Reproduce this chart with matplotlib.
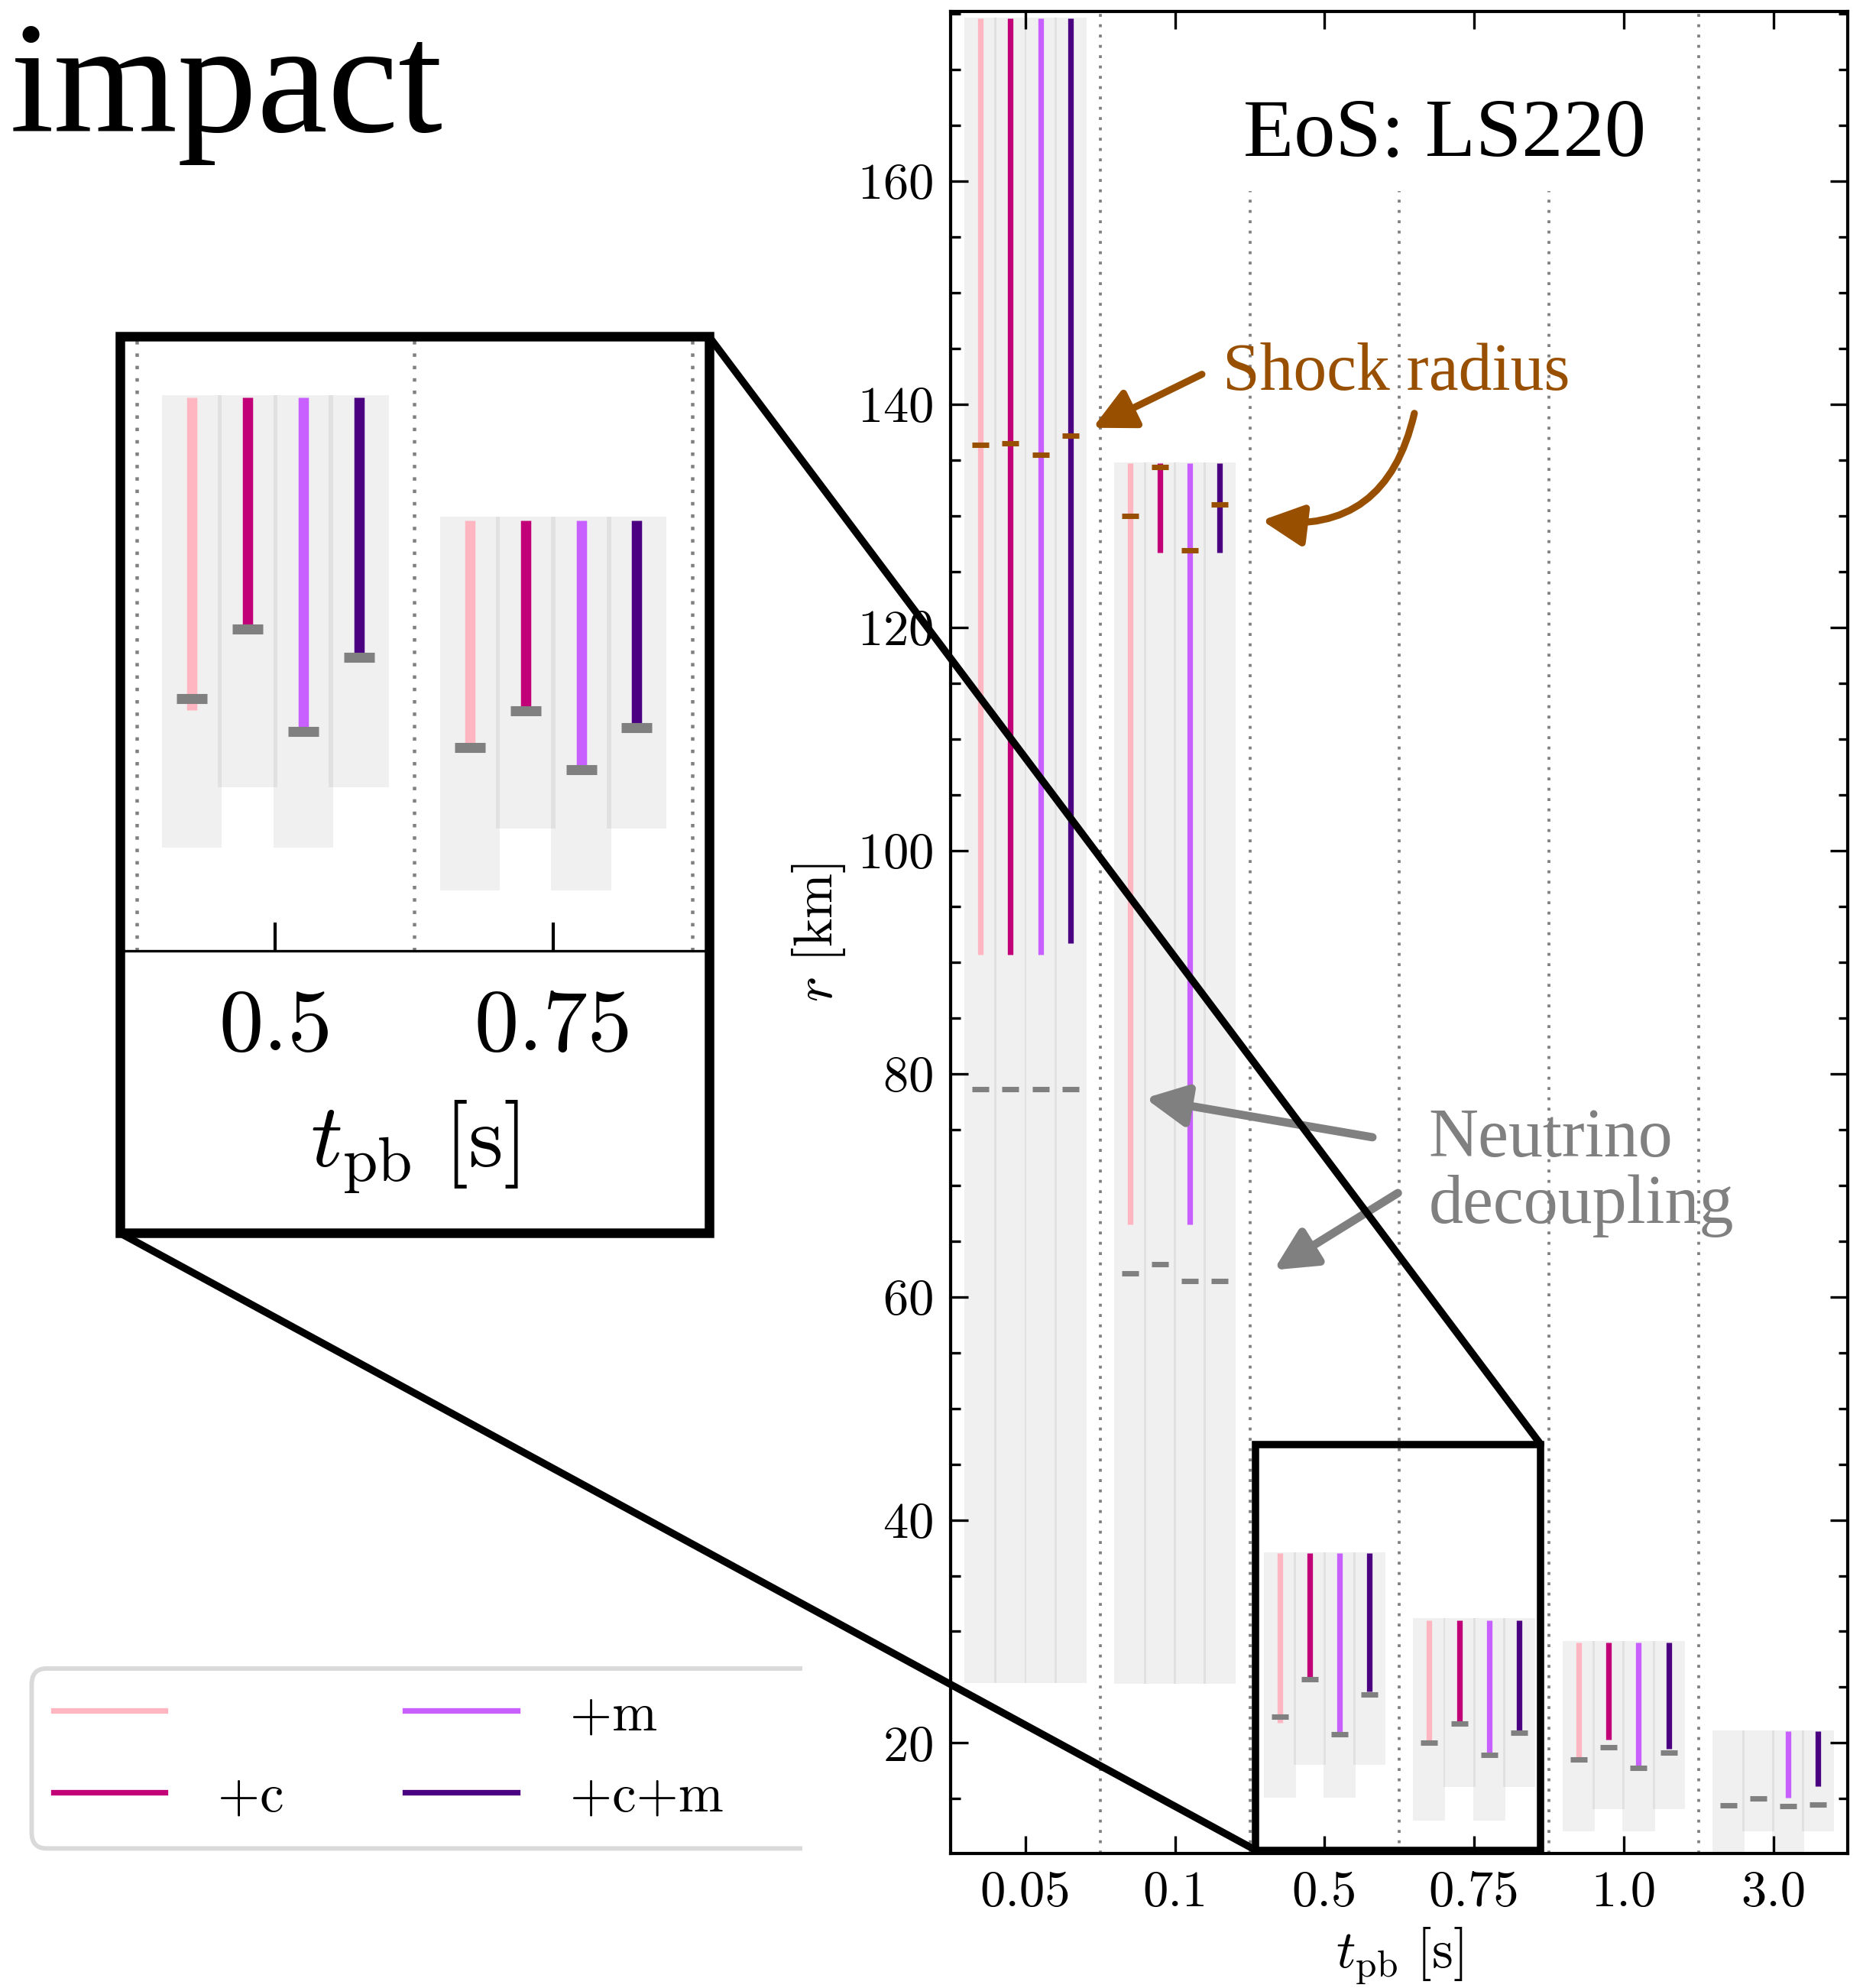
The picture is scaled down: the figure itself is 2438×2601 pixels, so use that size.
import numpy as np
import matplotlib
matplotlib.use('Agg')
import matplotlib.pyplot as plt
from matplotlib.patches import Rectangle, FancyBboxPatch, ConnectionPatch
from matplotlib.lines import Line2D
from matplotlib.ticker import MultipleLocator
from matplotlib.transforms import Bbox, TransformedBbox

plt.rcParams['font.family'] = 'serif'
plt.rcParams['font.serif'] = ['cmr10']
plt.rcParams['mathtext.fontset'] = 'cm'
plt.rcParams['axes.formatter.use_mathtext'] = True

# Zeitpunkte nach dem Bounce und Modelle
t_labels = ['0.05', '0.1', '0.5', '0.75', '1.0', '3.0']
models = ['', '+c', '+m', '+c+m']
colors = ['#FFB6C1', '#C20078', '#C760FF', '#4B0082']
offsets = [-0.3, -0.1, 0.1, 0.3]

# Zeilen = Zeitpunkte, Spalten = Modelle  (r in km)
line_top = np.array([
    [174.6, 174.6, 174.6, 174.6],
    [134.7, 134.7, 134.7, 134.7],
    [37.0, 37.0, 37.0, 37.0],
    [31.0, 31.0, 31.0, 31.0],
    [29.0, 29.0, 29.0, 29.0],
    [21.05, 21.05, 21.05, 21.05],
])
line_bottom = np.array([
    [90.7, 90.7, 90.7, 91.7],
    [66.5, 126.7, 66.5, 126.7],
    [21.8, 25.6, 21.0, 24.6],
    [20.2, 21.9, 19.1, 21.1],
    [18.7, 20.3, 18.0, 19.5],
    [np.nan, np.nan, 15.1, 16.1],
])
shock = np.array([
    [136.4, 136.5, 135.5, 137.2],
    [130.0, 134.4, 126.9, 131.0],
])
nu_dec = np.array([
    [78.6, 78.6, 78.6, 78.6],
    [62.1, 62.9, 61.4, 61.4],
    [22.35, 25.75, 20.75, 24.35],
    [20.0, 21.75, 18.9, 20.95],
    [18.5, 19.65, 17.8, 19.15],
    [14.4, 15.0, 14.33, 14.47],
])
bg_top = np.array([
    [174.7, 174.7, 174.7, 174.7],
    [134.8, 134.8, 134.8, 134.8],
    [37.1, 37.1, 37.1, 37.1],
    [31.2, 31.2, 31.2, 31.2],
    [29.15, 29.15, 29.15, 29.15],
    [21.15, 21.15, 21.15, 21.15],
])
bg_bottom = np.array([
    [25.4, 25.4, 25.4, 25.4],
    [25.3, 25.3, 25.3, 25.3],
    [15.1, 18.05, 15.1, 18.05],
    [13.05, 16.05, 13.05, 16.05],
    [12.05, 14.05, 12.05, 14.05],
    [9.0, 12.05, 9.0, 12.05],
])

brown = '#985000'


def draw(ax, s=1.0):
    pos = np.arange(len(t_labels))
    for k in range(1, len(t_labels)):
        ax.axvline(k - 0.5, color='gray', ls=(0, (1, 2.6)), lw=0.9 * min(s, 1.2), zorder=0)
    for j in range(4):
        x = pos + offsets[j]
        ax.bar(x, bg_top[:, j] - bg_bottom[:, j], bottom=bg_bottom[:, j], width=0.215,
               color='k', alpha=0.06, lw=0, zorder=1)
        ax.vlines(x, line_bottom[:, j], line_top[:, j], color=colors[j], lw=1.75 * s, zorder=2)
        ax.plot(x, nu_dec[:, j], ls='none', marker='_', ms=5.2 * s, mew=1.7 * s,
                color='gray', zorder=3)
        ax.plot(x[:len(shock)], shock[:, j], ls='none', marker='_', ms=5.2 * s, mew=1.7 * s,
                color=brown, zorder=3)


fig = plt.figure(figsize=(2438 / 300, 2601 / 300), dpi=300)

# Hauptpanel
ax = fig.add_axes([0.5103, 0.0677, 0.4817, 0.9264])
draw(ax)
ax.set_xlim(-0.5, 5.5)
ax.set_ylim(10.1, 175.2)
ax.set_xticks(np.arange(len(t_labels)))
ax.set_xticklabels(t_labels)
ax.yaxis.set_major_locator(MultipleLocator(20))
ax.yaxis.set_minor_locator(MultipleLocator(5))
ax.tick_params(which='both', direction='in', top=True, right=True, labelsize=16)
ax.tick_params(which='major', length=5.5, width=0.8, pad=5.5)
ax.tick_params(which='minor', length=3, width=0.8)
ax.tick_params(axis='x', which='minor', bottom=False, top=False)
for sp in ax.spines.values():
    sp.set_linewidth(1.0)
ax.set_xlabel(r'$t_{\rm pb}\ [\mathrm{s}]$', fontsize=17, labelpad=3)
ax.set_ylabel(r'$r\ [\mathrm{km}]$', fontsize=17, labelpad=3)

# weisser Hintergrund hinter dem EoS-Titel
ax.add_patch(Rectangle((1.45, 159.1), 2.75, 20, fc='white', ec='none', zorder=0.5))
ax.text(2.80, 162.3, 'EoS: LS220', fontsize=26, family='Liberation Serif',
        ha='center', va='baseline', zorder=5)

# Shock radius
ax.text(1.317, 141.3, 'Shock radius', fontsize=21, family='Liberation Serif',
        color=brown, ha='left', va='baseline', zorder=5)
arr = dict(arrowstyle='-|>,head_length=0.5,head_width=0.25', color=brown, lw=2.2,
           mutation_scale=22, shrinkA=0, shrinkB=0)
ax.annotate('', xy=(0.45, 137.9), xytext=(1.18, 142.7), arrowprops=arr, zorder=5)
ax.annotate('', xy=(1.58, 129.6), xytext=(2.60, 139.2),
            arrowprops=dict(arr, connectionstyle='arc3,rad=-0.45'), zorder=5)

# Neutrino decoupling
ax.text(2.695, 72.6, 'Neutrino', fontsize=21.6, family='Liberation Serif',
        color='gray', ha='left', va='baseline', zorder=5)
ax.text(2.695, 66.6, 'decoupling', fontsize=21.6, family='Liberation Serif',
        color='gray', ha='left', va='baseline', zorder=5)
arr_g = dict(arr, color='gray', lw=2.6)
ax.annotate('', xy=(0.80, 77.8), xytext=(2.32, 74.3), arrowprops=arr_g, zorder=5)
ax.annotate('', xy=(1.66, 62.4), xytext=(2.49, 69.3), arrowprops=arr_g, zorder=5)

# Zoom-Rechteck im Hauptpanel
ax.add_patch(Rectangle((1.538, 10.4), 1.907, 36.36, fill=False, ec='k', lw=2.3,
                       clip_on=False, zorder=6))

# Inset
axin = fig.add_axes([0.0643, 0.5217, 0.3163, 0.309])
draw(axin, s=1.85)
axin.set_xlim(1.44, 3.56)
axin.set_ylim(10.1, 39.95)
axin.set_xticks([2, 3])
axin.set_xticklabels(t_labels[2:4])
axin.set_yticks([])
axin.tick_params(axis='x', direction='in', length=9, width=1.0, top=False,
                 labelsize=28, pad=12)
axin.set_xlabel(r'$t_{\rm pb}\ [\mathrm{s}]$', fontsize=28, labelpad=10)
fig.add_artist(Rectangle((0.0643, 0.3798), 0.3163, 0.4509, transform=fig.transFigure,
                         fill=False, ec='k', lw=3, zorder=6))
for xyA, xyB in [((0.0643, 0.3798), (1.538, 10.4)), ((0.3806, 0.8307), (3.445, 46.76))]:
    fig.add_artist(ConnectionPatch(xyA=xyA, coordsA=fig.transFigure, xyB=xyB,
                                   coordsB=ax.transData, color='k', lw=2.3, zorder=6))

# Legende (rechter Rand abgeschnitten)
frame = FancyBboxPatch((0.017, 0.0702), 0.45, 0.0905, boxstyle='round,pad=0,rounding_size=0.008',
                       transform=fig.transFigure, fc='white', ec='0.85', lw=1.4)
fig.add_artist(frame)
frame.set_clip_box(TransformedBbox(Bbox.from_extents(0, 0, 0.4306, 1), fig.transFigure))
handles = [Line2D([], [], color=c, lw=1.75) for c in colors]
fig.legend(handles, models, ncol=2, loc='lower left', bbox_to_anchor=(0.017, 0.0728),
           frameon=False, fontsize=17, handlelength=2.07, handletextpad=0.97,
           columnspacing=2.24, labelspacing=0.6, borderpad=0.4, borderaxespad=0)

fig.text(0.005, 0.934, 'impact', fontsize=50, family='Liberation Serif', va='baseline')

fig.savefig('out.png', dpi=300)
